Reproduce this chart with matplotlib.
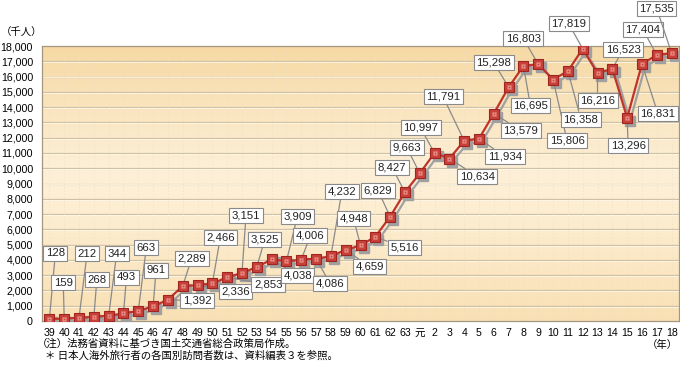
import numpy as np
import matplotlib
matplotlib.use('Agg')
import matplotlib.pyplot as plt
import matplotlib.transforms as mtransforms
from matplotlib.colors import LinearSegmentedColormap

plt.rcParams['font.family'] = ['Liberation Sans', 'Noto Sans CJK JP']

# 年（昭和39年〜平成18年）
years = ['39', '40', '41', '42', '43', '44', '45', '46', '47', '48', '49', '50',
         '51', '52', '53', '54', '55', '56', '57', '58', '59', '60', '61', '62',
         '63', '元', '2', '3', '4', '5', '6', '7', '8', '9', '10', '11', '12',
         '13', '14', '15', '16', '17', '18']
# 出国日本人数（千人）
travelers = [128, 159, 212, 268, 344, 493, 663, 961, 1392, 2289, 2336, 2466,
             2853, 3151, 3525, 4038, 3909, 4006, 4086, 4232, 4659, 4948, 5516,
             6829, 8427, 9663, 10997, 10634, 11791, 11934, 13579, 15298, 16695,
             16803, 15806, 16358, 17819, 16216, 16523, 13296, 16831, 17404, 17535]

# label box offsets from each point (pixels)
label_offsets = [(6, 66), (-1, 36), (8, 64), (3, 37), (8, 62), (3, 36), (8, 63),
                 (3, 36), (29, -1), (9, 28), (38, -6), (8, 46), (41, -7),
                 (4, 57), (8, 28), (26, -16), (11, 45), (9, 24), (14, -25),
                 (11, 65), (24, -17), (-7, 27), (29, -11), (-12, 26), (-13, 25),
                 (-13, 26), (-14, 25), (28, -18), (-21, 44), (26, -18),
                 (27, -17), (-15, 25), (7, -40), (-15, 26), (14, -61),
                 (13, -48), (-14, 25), (0, -27), (11, 19), (1, -28), (16, -50),
                 (-14, 26), (-15, 45)]

x = np.arange(len(years))

fig = plt.figure(figsize=(6.8, 3.66), dpi=100)
ax = fig.add_axes([42 / 680, 1 - 321 / 366, 637 / 680, 275 / 366])

# background gradient
cmap = LinearSegmentedColormap.from_list(
    'bg', [(0, '#f6d9a4'), (0.45, '#fdf0d8'), (0.6, '#fdeed2'), (1, '#f9e0b4')])
grad = np.linspace(0, 1, 256).reshape(-1, 1)
ax.imshow(grad, cmap=cmap, aspect='auto', extent=[-0.5, 42.5, 0, 18000],
          origin='upper', zorder=0)

for yv in range(1000, 18000, 1000):
    ax.axhline(yv, color='#cfc1a4', lw=0.9, zorder=1)
    ax.axhline(yv - 60, color='#fff8ea', lw=0.6, zorder=1)
for xv in x:
    ax.axvline(xv, color='#eadcc0', lw=0.6, ls=(0, (1, 3)), zorder=1)

# shadow
shadow = mtransforms.offset_copy(ax.transData, fig=fig, x=3, y=-3, units='dots')
ax.plot(x, travelers, color='#a0a0a0', lw=1.6, marker='s', ms=6.5,
        mfc='#a0a0a0', mec='#a0a0a0', transform=shadow, zorder=3)

ax.plot(x, travelers, color='#c0332b', lw=1.6, zorder=5)
ax.plot(x, travelers, ls='none', marker='s', ms=6.8, mfc='#c8403a',
        mec='#a02420', mew=0.8, zorder=6)
ax.plot(x, travelers, ls='none', marker='s', ms=3.4, mfc='#e99a90',
        mec='#d86a60', mew=0.4, zorder=7)
ax.plot(x, travelers, ls='none', marker='s', ms=1.2, mfc='#c8403a',
        mec='none', zorder=8)

for xi, v, (dx, dy) in zip(x, travelers, label_offsets):
    ax.annotate(f'{v:,}', xy=(xi, v), xytext=(dx, dy), textcoords='offset pixels',
                ha='center', va='center', fontsize=8.2, color='#222222',
                bbox=dict(boxstyle='square,pad=0.22', fc='white', ec='#8a8a8a', lw=0.8),
                arrowprops=dict(arrowstyle='-', color='#8a8a8a', lw=0.9,
                                shrinkA=0, shrinkB=0),
                annotation_clip=False, zorder=4)

ax.set_xlim(-0.5, 42.5)
ax.set_ylim(0, 18000)
ax.set_yticks(range(0, 18001, 1000))
ax.set_yticklabels([f'{t:,}' for t in range(0, 18001, 1000)], fontsize=7.7)
ax.set_xticks(x)
ax.set_xticklabels(years, fontsize=7.6)
ax.tick_params(axis='y', length=0, pad=6.5)
ax.tick_params(axis='x', length=0, pad=5)
for s in ax.spines.values():
    s.set_color('#a49782')
    s.set_linewidth(0.9)

fig.text(0.5 / 680, 1 - 33 / 366, '（千人）', fontsize=7.5, family='Noto Sans CJK JP',
         va='center', ha='left')
fig.text(678 / 680, 1 - 345 / 366, '（年）', fontsize=7.5, family='Noto Sans CJK JP',
         va='center', ha='right')
fig.text(37 / 680, 1 - 344 / 366, '（注）法務省資料に基づき国土交通省総合政策局作成。',
         fontsize=7.5, family='Noto Sans CJK JP', va='center', ha='left')
fig.text(45 / 680, 1 - 356 / 366, '＊ 日本人海外旅行者の各国別訪問者数は、資料編表３を参照。',
         fontsize=7.5, family='Noto Sans CJK JP', va='center', ha='left')

fig.savefig('out.png', dpi=100)
